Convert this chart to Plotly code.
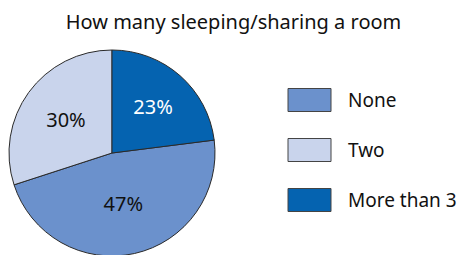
import plotly.graph_objects as go

title = "How many sleeping/sharing a room"
labels = ["None", "Two", "More than 3"]
values = [47, 30, 23]
colors = ["#6b91cc", "#c9d4ec", "#0563b0"]
text_colors = ["#111111", "#111111", "#ffffff"]

# the page body adds an 8px margin, so the figure is laid out in page coords - 8
W, H = 457, 250
T, B = 42, 2
PH = H - T - B
FONT = "Noto Sans"


def py(y):
    return 1 - (y - T) / PH


fig = go.Figure()
fig.add_trace(go.Pie(
    labels=labels, values=values, sort=False, direction="clockwise",
    rotation=360 * values[2] / sum(values),
    marker=dict(colors=colors, line=dict(color="#2a2a2a", width=1)),
    texttemplate="%{percent:.0%}", textposition="inside",
    insidetextfont=dict(color=text_colors, size=20, family=FONT),
    domain=dict(x=[1 / W, 207 / W], y=[0, 1]),
    showlegend=False, hoverinfo="label+percent",
))

# custom legend (large swatches)
ys = [92, 142, 192]
for lab, col, yc in zip(labels, colors, ys):
    fig.add_shape(type="rect", xref="paper", yref="paper",
                  x0=280 / W, x1=323 / W,
                  y0=py(yc + 11.5), y1=py(yc - 11.5),
                  fillcolor=col, line=dict(color="#444444", width=1))
    fig.add_annotation(text=lab, xref="paper", yref="paper",
                       x=338 / W, y=py(yc),
                       xanchor="left", yanchor="middle", showarrow=False,
                       font=dict(size=19, color="#111111", family=FONT))

fig.update_layout(
    width=W, height=H,
    margin=dict(l=0, r=0, t=T, b=B),
    paper_bgcolor="white", plot_bgcolor="white",
    title=dict(text=title, x=225.5 / W, xanchor="center", y=1 - 14 / H, yanchor="middle",
               font=dict(size=20, color="#111111", family=FONT)),
)

fig.write_html("out.html")
